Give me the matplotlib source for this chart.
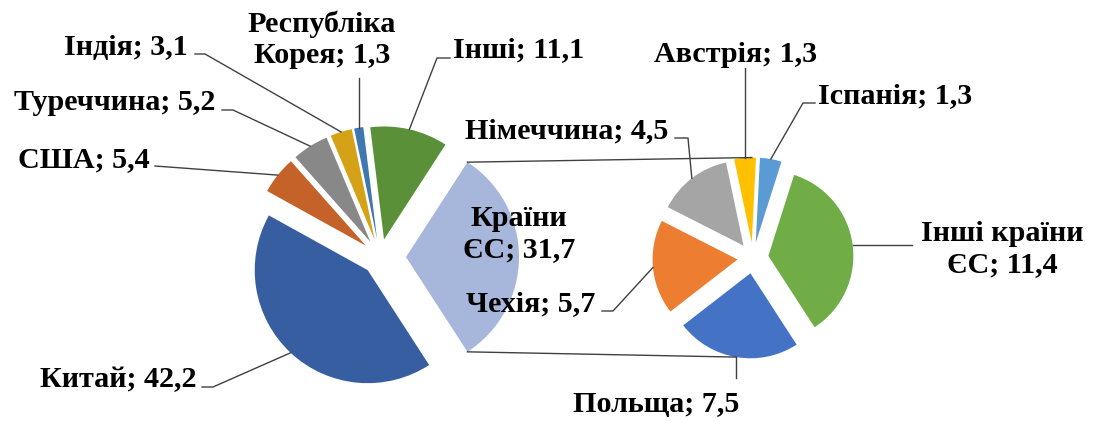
import numpy as np
import matplotlib
matplotlib.use("Agg")
import matplotlib.pyplot as plt

# main pie (counter-clockwise from the split-off slice)
main_labels = ["Країни\nЄС", "Інші", "Республіка\nКорея", "Індія", "Туреччина", "США", "Китай"]
main_values = [31.7, 11.1, 1.3, 3.1, 5.2, 5.4, 42.2]
main_colors = ["#A7B6DB", "#5A9138", "#3F77B0", "#D5A116", "#888888", "#C5622A", "#365EA1"]

# secondary pie: breakdown of EU countries
eu_labels = ["Інші країни\nЄС", "Іспанія", "Австрія", "Німеччина", "Чехія", "Польща"]
eu_values = [11.4, 1.3, 1.3, 4.5, 5.7, 7.5]
eu_colors = ["#70AD47", "#5B9BD5", "#FFC000", "#A5A5A5", "#ED7D31", "#4472C4"]

W, H = 1100, 421


def Y(y):
    """Screen pixel row -> data y."""
    return H - y


plt.rcParams["font.family"] = ["Liberation Serif", "DejaVu Serif"]
fig = plt.figure(figsize=(W / 100, H / 100), dpi=100)
ax = fig.add_axes([0, 0, 1, 1])

# explode is in data units (pixels here)
start = -180 * main_values[0] / sum(main_values)
w_main, _ = ax.pie(main_values, colors=main_colors, startangle=start, counterclock=True,
                   center=(380, Y(257)), radius=113,
                   explode=[26] + [18] * (len(main_values) - 1),
                   wedgeprops=dict(linewidth=0))
w_eu, _ = ax.pie(eu_values, colors=eu_colors, startangle=start, counterclock=True,
                 center=(753, Y(258)), radius=85, explode=[15.5] * len(eu_values),
                 wedgeprops=dict(linewidth=0))


def arc_point(w, ang=None):
    if ang is None:
        ang = (w.theta1 + w.theta2) / 2
    a = np.deg2rad(ang)
    return w.center[0] + w.r * np.cos(a), w.center[1] + w.r * np.sin(a)


# connector lines between the EU slice and the secondary pie
eu = w_main[0]
top_w = next(w for w in w_eu if w.theta1 <= 90 <= w.theta2)
bot_w = next(w for w in w_eu if w.theta1 <= 270 <= w.theta2)
p1 = arc_point(eu, eu.theta2)
p2 = arc_point(top_w, 90)
ax.plot([p1[0], p2[0]], [p1[1], p2[1]], color="#404040", lw=1)
p1 = arc_point(eu, eu.theta1)
p2 = arc_point(bot_w)
ax.plot([p1[0], p2[0]], [p1[1], p2[1]], color="#404040", lw=1)

# label layout: text x, last-line baseline y (screen), ha, leader path (screen points, "v"/"h" = straight)
main_layout = [
    (519, 257, "center", None),
    (453, 57, "left", [(437, 58), (450, 58)]),
    (322, 63, "center", "v78"),
    (188, 55, "right", [(205, 54), (195, 54)]),
    (215, 110, "right", [(233, 110), (222, 110)]),
    (150, 167, "right", [(155, 166)]),
    (196, 387, "right", [(213, 387), (202, 387)]),
]
eu_layout = [
    (1002, 272, "center", "h912"),
    (818, 103, "left", [(803, 103), (815, 103)]),
    (736, 62, "center", "v68"),
    (668, 138, "right", [(688, 138), (675, 138)]),
    (595, 311, "right", [(613, 311), (602, 311)]),
    (656, 412, "center", "v378"),
]


def fmt(v):
    return f"{v:.1f}".replace(".", ",")


for wedges, labels, values, layout in [(w_main, main_labels, main_values, main_layout),
                                       (w_eu, eu_labels, eu_values, eu_layout)]:
    for w, lab, v, (tx, ty, ha, path) in zip(wedges, labels, values, layout):
        ax.text(tx, Y(ty), f"{lab}; {fmt(v)}", ha=ha, va="baseline", ma="center",
                fontsize=21.7, fontweight="bold", linespacing=1.2, color="#000000")
        if path is None:
            continue
        x0, y0 = arc_point(w)
        if isinstance(path, str):
            if path[0] == "v":
                xs, ys = [x0, x0], [y0, Y(float(path[1:]))]
            else:
                xs, ys = [x0, float(path[1:])], [y0, y0]
        else:
            xs = [x0] + [p[0] for p in path]
            ys = [y0] + [Y(p[1]) for p in path]
        ax.plot(xs, ys, color="#404040", lw=1)

ax.set_xlim(0, W)
ax.set_ylim(0, H)
ax.set_aspect("auto")
ax.axis("off")
fig.savefig("out.png", dpi=100)
